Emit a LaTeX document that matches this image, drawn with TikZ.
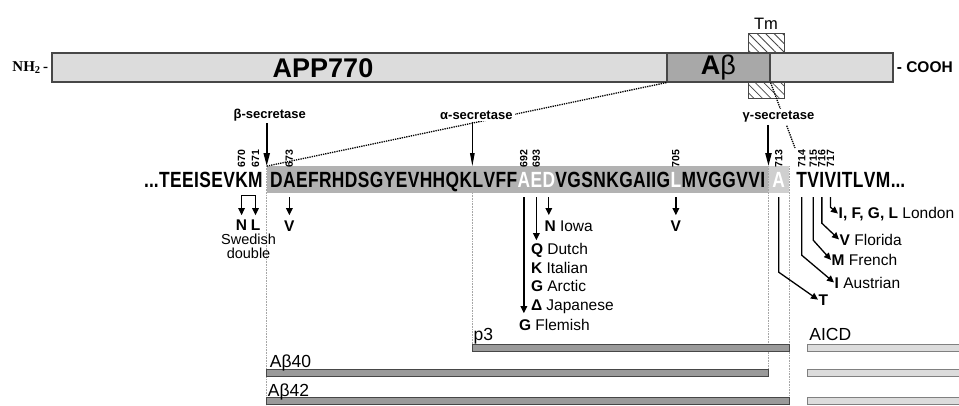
\documentclass[tikz,border=0pt]{standalone}
\usepackage{fontspec}
\setmainfont{Liberation Sans}
\newfontfamily\seqfont[FakeStretch=0.79]{Liberation Sans}
\newfontfamily\nhfont{Liberation Serif}
\usetikzlibrary{arrows.meta,positioning,fit,backgrounds,patterns.meta,calc}
\definecolor{barlight}{HTML}{DCDCDC}
\definecolor{bardark}{HTML}{A8A8A8}
\definecolor{seqgray}{HTML}{B2B2B2}
\definecolor{seqpale}{HTML}{CFCFCF}
\definecolor{fragdark}{HTML}{9A9A9A}
\definecolor{edge}{HTML}{474747}
\newcommand{\wres}[1]{\textcolor{white}{#1}}

\begin{document}
\begin{tikzpicture}[x=1pt,y=-1pt,
 res/.style={inner sep=0pt,text height=16pt,text depth=1pt,
   font=\seqfont\bfseries\fontsize{22}{24}\selectfont},
 num/.style={rotate=90,anchor=west,inner sep=0pt,
   font=\bfseries\fontsize{10.5}{12}\selectfont},
 sec/.style={fill=white,inner sep=2pt,font=\bfseries\fontsize{13}{15}\selectfont},
 mtxt/.style={inner sep=0.5pt,font=\fontsize{15.5}{18}\selectfont},
 mut/.style={-{Triangle[length=7pt,width=6.5pt]},line width=1.3pt},
 cut/.style={-{Triangle[length=13pt,width=6pt]},line width=2pt},
 guide/.style={draw=gray!70,densely dotted,line width=0.6pt},
 zoomline/.style={densely dotted,line width=1.3pt},
 frag/.style={draw=edge,fill=fragdark,line width=1pt},
 aicd/.style={draw=gray,fill=barlight,line width=0.8pt},
 barlab/.style={anchor=base west,inner sep=0pt,font=\fontsize{17.5}{20}\selectfont}]
\useasboundingbox (0,0) rectangle (959,405);

% APP770 precursor
\node[draw=edge,line width=0.8pt,pattern={Lines[angle=-45,distance=6pt,line width=0.8pt]},
  pattern color=edge,minimum width=36pt,minimum height=65pt] (tm) at (766,65.5) {};
\node[draw=edge,fill=barlight,line width=1.2pt,minimum width=841pt,minimum height=29pt,
  inner sep=0pt] (app) at (472.5,67.5) {};
\node[draw=edge,fill=bardark,line width=1.2pt,minimum width=103pt,minimum height=29pt,
  inner sep=0pt,font=\fontsize{27}{30}\selectfont] (ab) at (718.5,67.5) {\textbf{A}β};
\node[font=\bfseries\fontsize{27}{30}\selectfont] (applab) at (323,68) {APP770};
\node[above=0pt of tm,font=\fontsize{16.5}{18}\selectfont] (tmlab) {Tm};
\node[anchor=east,inner sep=3pt,font=\nhfont\bfseries\fontsize{15}{16}\selectfont] (nh)
  at (app.west) {NH\textsubscript{2}\,-};
\node[anchor=west,inner sep=3pt,font=\bfseries\fontsize{15.5}{16}\selectfont] (cooh)
  at (app.east) {- COOH};

% sequence 663-722
\node[res,anchor=base west] (r662) at (144,187) {...};
\foreach \n/\l [remember=\n as \p (initially 662)] in
  {663/T,664/E,665/E,666/I,667/S,668/E,669/V,670/K,671/M}
  \node[res,right=0pt of r\p] (r\n) {\l};
\node[res,right=7pt of r671] (r672) {D};
\foreach \n/\l [remember=\n as \p (initially 672)] in
  {673/A,674/E,675/F,676/R,677/H,678/D,679/S,680/G,681/Y,682/E,683/V,684/H,
   685/H,686/Q,687/K,688/L,689/V,690/F,691/F,692/\wres{A},693/\wres{E},
   694/\wres{D},695/V,696/G,697/S,698/N,699/K,700/G,701/A,702/I,703/I,704/G,
   705/\wres{L},706/M,707/V,708/G,709/G,710/V,711/V,712/I}
  \node[res,right=0pt of r\p] (r\n) {\l};
\node[res,right=7pt of r712] (r713) {\wres{A}};
\node[res,right=11pt of r713] (r714) {T};
\foreach \n/\l [remember=\n as \p (initially 714)] in
  {715/V,716/I,717/V,718/I,719/T,720/L,721/V,722/M}
  \node[res,right=0pt of r\p] (r\n) {\l};
\node[res,right=0pt of r722] (dotsR) {...};

\begin{scope}[on background layer]
\node[fit=(r672)(r712),inner xsep=3pt,inner ysep=4.5pt,fill=seqgray] (hl) {};
\node[fit=(r713),inner xsep=4pt,inner ysep=4.5pt,fill=seqpale] (hlA) {};
\end{scope}

% rows of the fragments
\coordinate (top1) at (0,344.5); \coordinate (bot1) at (0,351.5);
\coordinate (top2) at (0,369.5); \coordinate (bot2) at (0,376.5);
\coordinate (top3) at (0,397.5); \coordinate (bot3) at (0,404.5);
\coordinate (edgeR) at (962,0);
\coordinate (secrow) at (0,115);
\coordinate (gsecrow) at (0,117);
\coordinate (gend) at (795,148);

\draw[guide] (hl.north west) -- (hl.west |- bot3);
\draw[guide] (r688.west |- hl.south) -- (r688.west |- top1);
\draw[guide] (hl.north east) -- (hl.east |- top2);
\draw[guide] (hlA.north east) -- (hlA.east |- bot3);

\draw[zoomline] (ab.south west) -- (hl.north west);
\draw[zoomline] (ab.south east) -- (gend);

% secretases
\node[sec] (bsec) at ($(hl.west |- secrow)+(3,0)$) {β-secretase};
\node[sec] (asec) at ($(r688.west |- secrow)+(4,0)$) {α-secretase};
\node[sec] (gsec) at ($(hl.east |- gsecrow)+(10,0)$) {γ-secretase};
\draw[cut] (bsec.south -| hl.west) -- (hl.north west);
\draw[cut,line width=1pt,-{Triangle[length=13pt,width=4.5pt]}]
  (asec.south -| r688.west) -- (r688.west |- hl.north);
\draw[cut] (gsec.south -| hl.east) -- (hl.north east);

% residue numbers
\foreach \n in {670,671,673,692,693,705,713,714,715,716,717}
  \node[num] (n\n) at ([yshift=3pt]r\n.north) {\n};

% mutations
\draw[mut,{Triangle[length=7pt,width=6.5pt]}-{Triangle[length=7pt,width=6.5pt]}]
  ([yshift=-27pt]r670.south) |- ([yshift=-7pt]r671.south) -- ([yshift=-27pt]r671.south);
\node[mtxt] (swN) at ([yshift=-37pt]r670.south) {\textbf{N}};
\node[mtxt] (swL) at ([yshift=-37pt]r671.south) {\textbf{L}};
\node[inner sep=0pt,align=center,font=\fontsize{14.5}{14}\selectfont] (swtxt)
  at ($(swN)!.5!(swL)+(0,21)$) {Swedish\\double};

\node[mtxt] (v673) at ([yshift=-38pt]r673.south) {\textbf{V}};
\draw[mut] ([yshift=-9pt]r673.south) -- ([yshift=-27pt]r673.south);

\node[mtxt,anchor=base west] (iowa) at ($(r694.south)+(-5,43.5)$) {\textbf{N} Iowa};
\draw[mut] ([yshift=-9pt]r694.south) -- ([yshift=-27pt]r694.south);
\foreach \l/\t/\y [count=\i] in {Q/Dutch/66.5,K/Italian/85,G/Arctic/103.5,Δ/Japanese/122}
  \node[mtxt,anchor=base west] (e693\i) at ($(r693.south)+(-6,\y)$) {\textbf{\l} \t};
\draw[mut] ([yshift=-9pt]r693.south) -- ([yshift=-52pt]r693.south);
\node[mtxt,anchor=base west] (flemish) at ($(r692.south)+(-5.5,142)$) {\textbf{G} Flemish};
\draw[mut] ([yshift=-9pt]r692.south) -- ([yshift=-125pt]r692.south);

\node[mtxt] (v705) at ([yshift=-38pt]r705.south) {\textbf{V}};
\draw[mut] ([yshift=-9pt]r705.south) -- ([yshift=-27pt]r705.south);

\node[mtxt,anchor=base west] (london) at (838,218) {\textbf{I, F, G, L} London};
\node[mtxt,anchor=base west] (florida) at (839,245) {\textbf{V} Florida};
\node[mtxt,anchor=base west] (french) at (831,265.5) {\textbf{M} French};
\node[mtxt,anchor=base west] (austrian) at (834,288) {\textbf{I} Austrian};
\node[mtxt,anchor=base west] (t713) at (818,305) {\textbf{T}};
\foreach \n/\k/\lab in {717/-19pt/london,716/-35pt/florida,715/-52pt/french,
  714/-67pt/austrian,713/-84pt/t713}
  \draw[mut] ([yshift=-9pt]r\n.south) -- ([yshift=\k]r\n.south) -- (\lab.west);

% fragments
\draw[frag] (r688.west |- top1) rectangle (hlA.east |- bot1);
\draw[frag] (hl.west |- top2) rectangle (hl.east |- bot2);
\draw[frag] (hl.west |- top3) rectangle (hlA.east |- bot3);
\foreach \r in {1,2,3}
  \draw[aicd] (r715.west |- top\r) rectangle (edgeR |- bot\r);
\node[barlab] (p3lab) at ($(r688.west |- top1)+(1,-4.5)$) {p3};
\node[barlab] (ab40lab) at ($(hl.west |- top2)+(3,-2.5)$) {Aβ40};
\node[barlab] (ab42lab) at ($(hl.west |- top3)+(1,-1)$) {Aβ42};
\node[barlab] (aicdlab) at ($(r715.west |- top1)+(2,-4.5)$) {AICD};
\end{tikzpicture}
\end{document}
